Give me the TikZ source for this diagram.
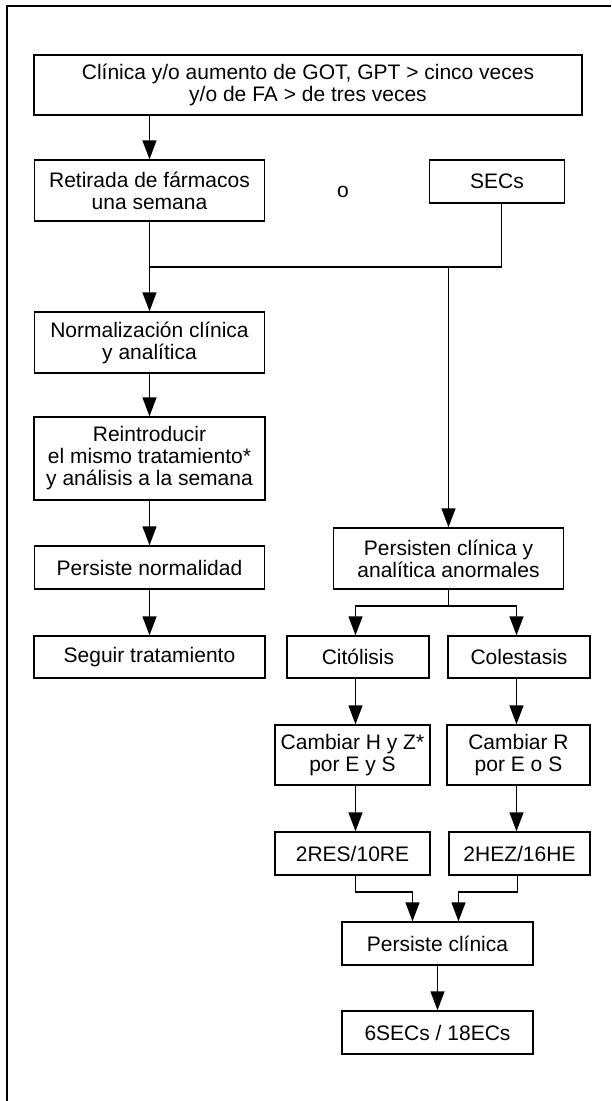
\documentclass[tikz,border=0pt]{standalone}
\usepackage{fontspec}
\setmainfont{Liberation Sans}
\usetikzlibrary{arrows.meta}
\begin{document}
\begin{tikzpicture}[x=1pt,y=-1pt,
  box/.style={draw,line width=1.4pt,inner sep=0pt,align=center,
    font=\fontsize{21}{22}\selectfont},
  conn/.style={line width=1.4pt},
  arr/.style={conn,-{Triangle[length=19pt,width=14pt]}}]
\useasboundingbox (0,0) rectangle (611,1101);
% page frame
\draw[line width=1.4pt] (7,1101) -- (7,6) -- (611,6);
% nodes
\node[box,minimum width=548pt,minimum height=60pt] (n1) at (308,85)
  {Clínica y/o aumento de GOT, GPT > cinco veces\\y/o de FA > de tres veces};
\node[box,minimum width=230pt,minimum height=61pt] (n2) at (149.5,190.5)
  {Retirada de fármacos\\una semana};
\node[font=\fontsize{21}{22}\selectfont,inner sep=0pt] (o) at (343,192) {o};
\node[box,minimum width=135pt,minimum height=43pt] (n3) at (497,181.5) {SECs};
\node[box,minimum width=230pt,minimum height=61pt] (n4) at (149.5,342.5)
  {Normalización clínica\\y analítica};
\node[box,minimum width=231pt,minimum height=83pt] (n5) at (149.5,458.5)
  {Reintroducir\\el mismo tratamiento*\\y análisis a la semana};
\node[box,minimum width=230pt,minimum height=43pt] (n6) at (149.5,567.5)
  {Persiste normalidad};
\node[box,minimum width=231pt,minimum height=42pt] (n7) at (149.5,657)
  {Seguir tratamiento};
\node[box,minimum width=230pt,minimum height=61pt] (n8) at (448.5,558.5)
  {Persisten clínica y\\analítica anormales};
\node[box,minimum width=142pt,minimum height=42pt] (n9) at (358,657) {Citólisis};
\node[box,minimum width=142pt,minimum height=42pt] (n10) at (519,657) {Colestasis};
\node[box,minimum width=155pt,minimum height=60pt] (n11) at (352.5,755)
  {Cambiar H y Z*\\por E y S};
\node[box,minimum width=143pt,minimum height=60pt] (n12) at (518.5,755)
  {Cambiar R\\por E o S};
\node[box,minimum width=155pt,minimum height=43pt] (n13) at (352.5,853.5) {2RES/10RE};
\node[box,minimum width=141pt,minimum height=43pt] (n14) at (519.5,853.5) {2HEZ/16HE};
\node[box,minimum width=191pt,minimum height=43pt] (n15) at (437.5,943.5) {Persiste clínica};
\node[box,minimum width=191pt,minimum height=43pt] (n16) at (437.5,1032.5) {6SECs / 18ECs};
% junction coordinates
\coordinate (jl) at (149.5,267);
\coordinate (jr) at (501.5,267);
\coordinate (jm) at (448.5,267);
\coordinate (k) at (448.5,606);
\coordinate (kl) at (355.5,606);
\coordinate (kr) at (516.5,606);
\coordinate (ml) at (355.5,892);
\coordinate (mr) at (517.5,892);
\coordinate (pl) at (412.5,892);
\coordinate (pr) at (458.5,892);
% connectors
\draw[arr] (n2.north |- n1.south) -- (n2.north);
\draw[conn] (n2.south) -- (jl) -- (jr) -- (n3.south -| jr);
\draw[arr] (jl) -- (n4.north);
\draw[arr] (jm) -- (n8.north);
\draw[arr] (n4.south) -- (n5.north);
\draw[arr] (n5.south) -- (n6.north);
\draw[arr] (n6.south) -- (n7.north);
\draw[conn] (n8.south) -- (k);
\draw[arr] (k) -- (kl) -- (n9.north -| kl);
\draw[arr] (k) -- (kr) -- (n10.north -| kr);
\draw[arr] (n9.south -| kl) -- (n11.north -| kl);
\draw[arr] (n10.south -| kr) -- (n12.north -| kr);
\draw[arr] (n11.south -| kl) -- (n13.north -| kl);
\draw[arr] (n12.south -| kr) -- (n14.north -| kr);
\draw[arr] (n13.south -| ml) -- (ml) -- (pl) -- (n15.north -| pl);
\draw[arr] (n14.south -| mr) -- (mr) -- (pr) -- (n15.north -| pr);
\draw[arr] (n15.south) -- (n16.north);
\end{tikzpicture}
\end{document}
